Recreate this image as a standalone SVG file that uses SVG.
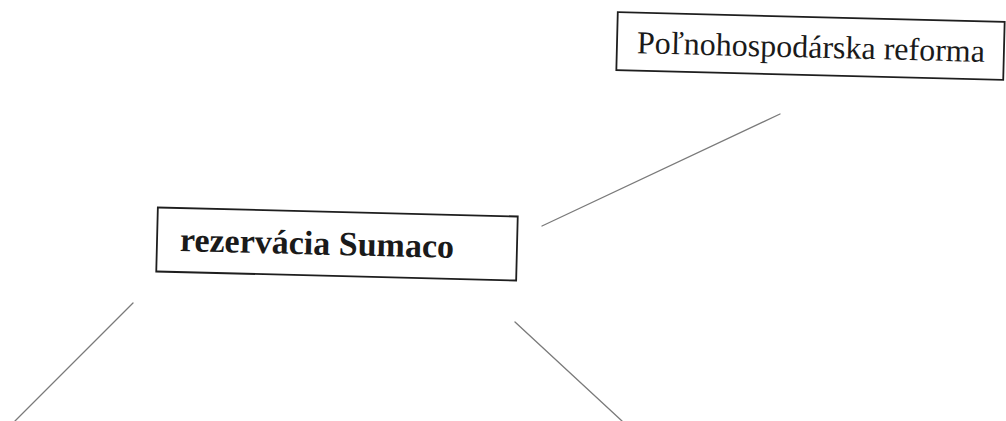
<svg xmlns="http://www.w3.org/2000/svg" width="1006" height="421" viewBox="0 0 1006 421">
  <style>
    .box { fill: #ffffff; stroke: #1e1e1e; stroke-width: 1.8; }
    .lbl { font-family: "Liberation Serif", "Times New Roman", serif; fill: #1a1a1a; text-anchor: middle; }
    .edge { stroke: #7a7a7a; stroke-width: 1.3; fill: none; stroke-linecap: round; }
  </style>
  <rect width="1006" height="421" fill="#ffffff"/>
  <g id="connectors">
    <line class="edge" x1="542" y1="226" x2="780" y2="114"/>
    <line class="edge" x1="133" y1="303" x2="15" y2="421"/>
    <line class="edge" x1="515" y1="322" x2="622" y2="421"/>
  </g>
  <g id="node-polnohospodarska-reforma" transform="rotate(1.43 810.5 46)">
    <rect class="box" x="617" y="17" width="387" height="58"/>
    <text class="lbl" x="811" y="57.5" font-size="32">Poľnohospodárska reforma</text>
  </g>
  <g id="node-rezervacia-sumaco" transform="rotate(1.43 337 244)">
    <rect class="box" x="157" y="212" width="360" height="64"/>
    <text class="lbl" x="317" y="255" font-size="34" font-weight="bold">rezervácia Sumaco</text>
  </g>
</svg>
